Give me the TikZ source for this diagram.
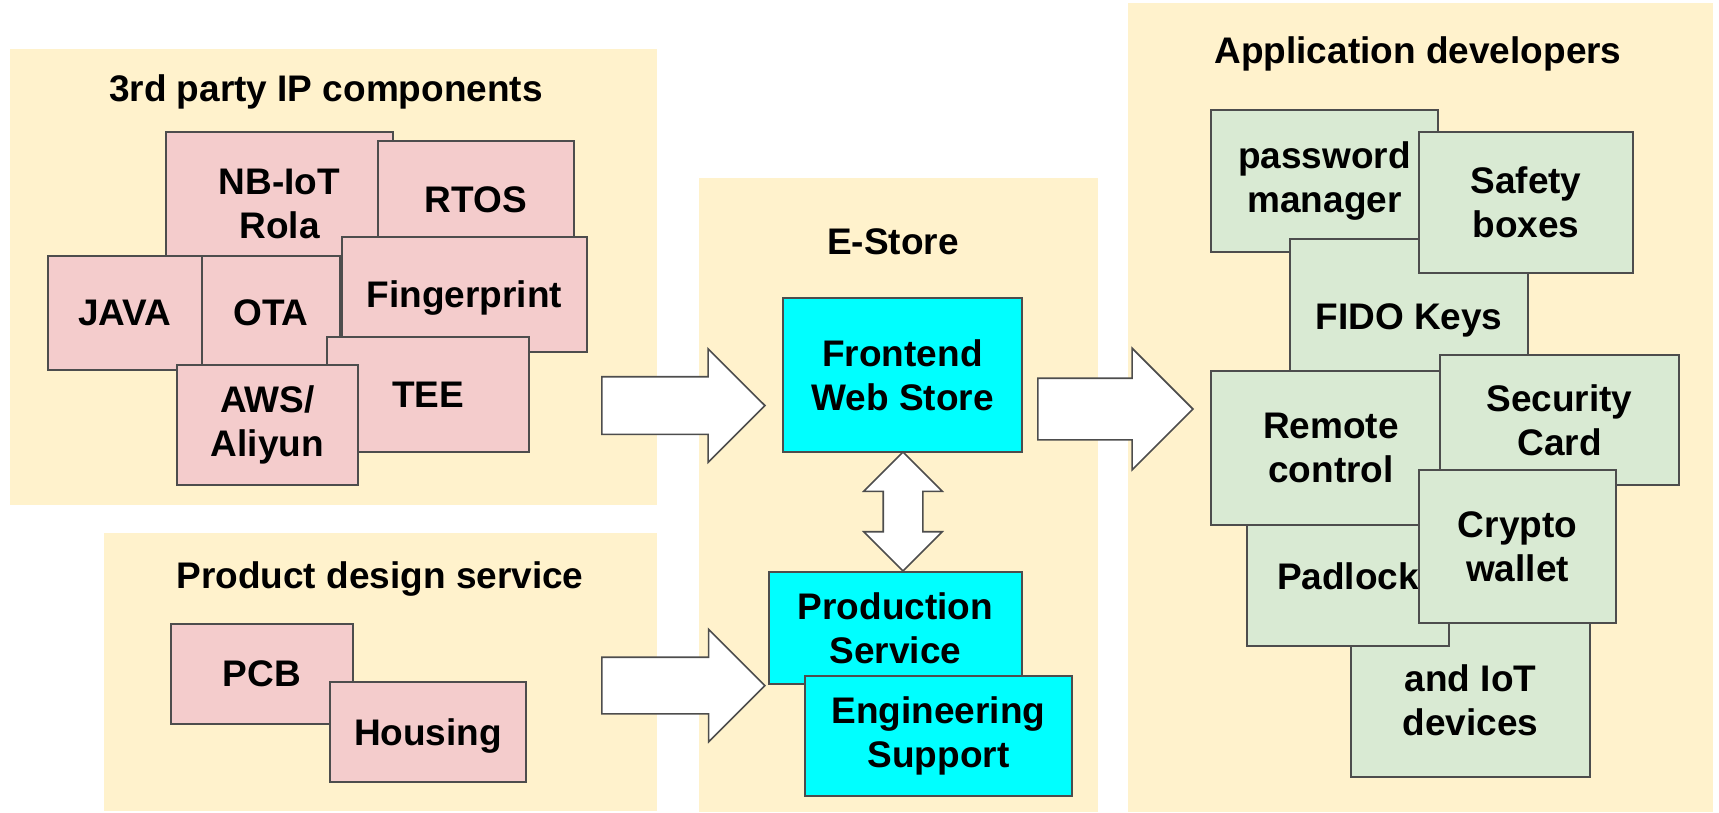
\documentclass[tikz,border=0pt]{standalone}
\usepackage{fontspec}
\setmainfont{Liberation Sans}
\usetikzlibrary{shapes.arrows}
\definecolor{panelfill}{HTML}{FFF2CC}
\definecolor{ipfill}{HTML}{F4CCCC}
\definecolor{appfill}{HTML}{D9EAD3}
\definecolor{storefill}{HTML}{00FFFF}
\definecolor{boxline}{HTML}{4D4D4D}
\tikzset{
  panel/.style = {fill=panelfill, inner sep=0pt, anchor=north west},
  tile/.style = {draw=boxline, line width=1.6pt, inner sep=0pt, align=center},
  flat/.style = {text depth=0pt},
  fatarrow/.style = {single arrow, draw=boxline, fill=white, line width=1.6pt,
    inner sep=0pt, text depth=0pt, single arrow tip angle=90, anchor=tip}
}
\begin{document}
\begin{tikzpicture}[x=1pt, y=-1pt, font=\bfseries\fontsize{37}{44}\selectfont]
\useasboundingbox (0,0) rectangle (1719,812);
\begin{scope}[every node/.style = {panel}]
\node[minimum width=647pt, minimum height=456pt] (ip) at (10,49) {};
\node[minimum width=553pt, minimum height=278pt] (design) at (104,533) {};
\node[minimum width=399pt, minimum height=634pt] (store) at (699,178) {};
\node[minimum width=585pt, minimum height=809pt] (app) at (1128,3) {};
\end{scope}
\begin{scope}[every node/.style = {anchor=base}]
\node (ipTitle) at (326,101) {3rd party IP components};
\node (designTitle) at (380,588) {Product design service};
\node (storeTitle) at (893,254) {E-Store};
\node (appTitle) at (1418,63) {Application developers};
\end{scope}
\begin{scope}[every node/.style = {tile, fill=ipfill}]
\node[minimum width=227pt, minimum height=144pt] (nbiot) at (279.5,204) {NB-IoT\\Rola};
\node[minimum width=196pt, minimum height=118pt] (rtos) at (476,200) {RTOS};
\node[minimum width=138pt, minimum height=114pt] (ota) at (271,313) {OTA};
\node[minimum width=154pt, minimum height=114pt] (java) at (125,313) {JAVA};
\node[flat, minimum width=245pt, minimum height=115pt] (finger) at (464.5,294.5) {Fingerprint};
\node[minimum width=202pt, minimum height=115pt] (tee) at (428,394.5) {TEE};
\node[minimum width=181pt, minimum height=120pt] (aws) at (267.5,425) {AWS/\\Aliyun};
\node[minimum width=182pt, minimum height=100pt] (pcb) at (262,674) {PCB};
\node[flat, minimum width=196pt, minimum height=100pt] (housing) at (428,732) {Housing};
\end{scope}
\begin{scope}[every node/.style = {tile, fill=storefill}]
\node[minimum width=239pt, minimum height=154pt] (frontend) at (902.5,375) {Frontend\\Web Store};
\node[minimum width=253pt, minimum height=112pt] (production) at (895.5,628) {Production\\Service};
\node[minimum width=267pt, minimum height=120pt] (engineering) at (938.5,736) {Engineering\\Support};
\end{scope}
\begin{scope}[every node/.style = {tile, fill=appfill}]
\node[minimum width=227pt, minimum height=142pt] (password) at (1324.5,181) {password\\manager};
\node[flat, minimum width=238pt, minimum height=156pt] (fido) at (1409,317) {FIDO Keys};
\node[minimum width=214pt, minimum height=141pt] (safety) at (1526,202.5) {Safety\\boxes};
\node[minimum width=239pt, minimum height=154pt] (iot) at (1470.5,700) {and IoT\\devices};
\node[minimum width=202pt, minimum height=140pt] (padlock) at (1348,576) {Padlock};
\node[minimum width=240pt, minimum height=154pt] (remote) at (1331,448) {Remote\\control};
\node[minimum width=239pt, minimum height=130pt] (security) at (1559.5,420) {Security\\Card};
\node[minimum width=197pt, minimum height=153pt] (crypto) at (1517.5,546.5) {Crypto\\wallet};
\end{scope}
\begin{scope}[every node/.style = {fatarrow}]
\node[minimum height=163pt, minimum width=112pt, text height=56pt, single arrow head extend=28pt] (ipArrow) at (766,405.5) {};
\node[minimum height=163pt, minimum width=111pt, text height=55pt, single arrow head extend=28pt] (designArrow) at (766,685.5) {};
\node[minimum height=155pt, minimum width=120pt, text height=60pt, single arrow head extend=30pt] (appArrow) at (1194,409) {};
\end{scope}
\node[double arrow, draw=boxline, fill=white, line width=1.6pt, inner sep=0pt, rotate=90,
  text height=38pt, text depth=0pt, minimum height=119pt, minimum width=77pt,
  double arrow head extend=19.5pt, double arrow tip angle=90] (link) at (903,511.5) {};
\end{tikzpicture}
\end{document}
